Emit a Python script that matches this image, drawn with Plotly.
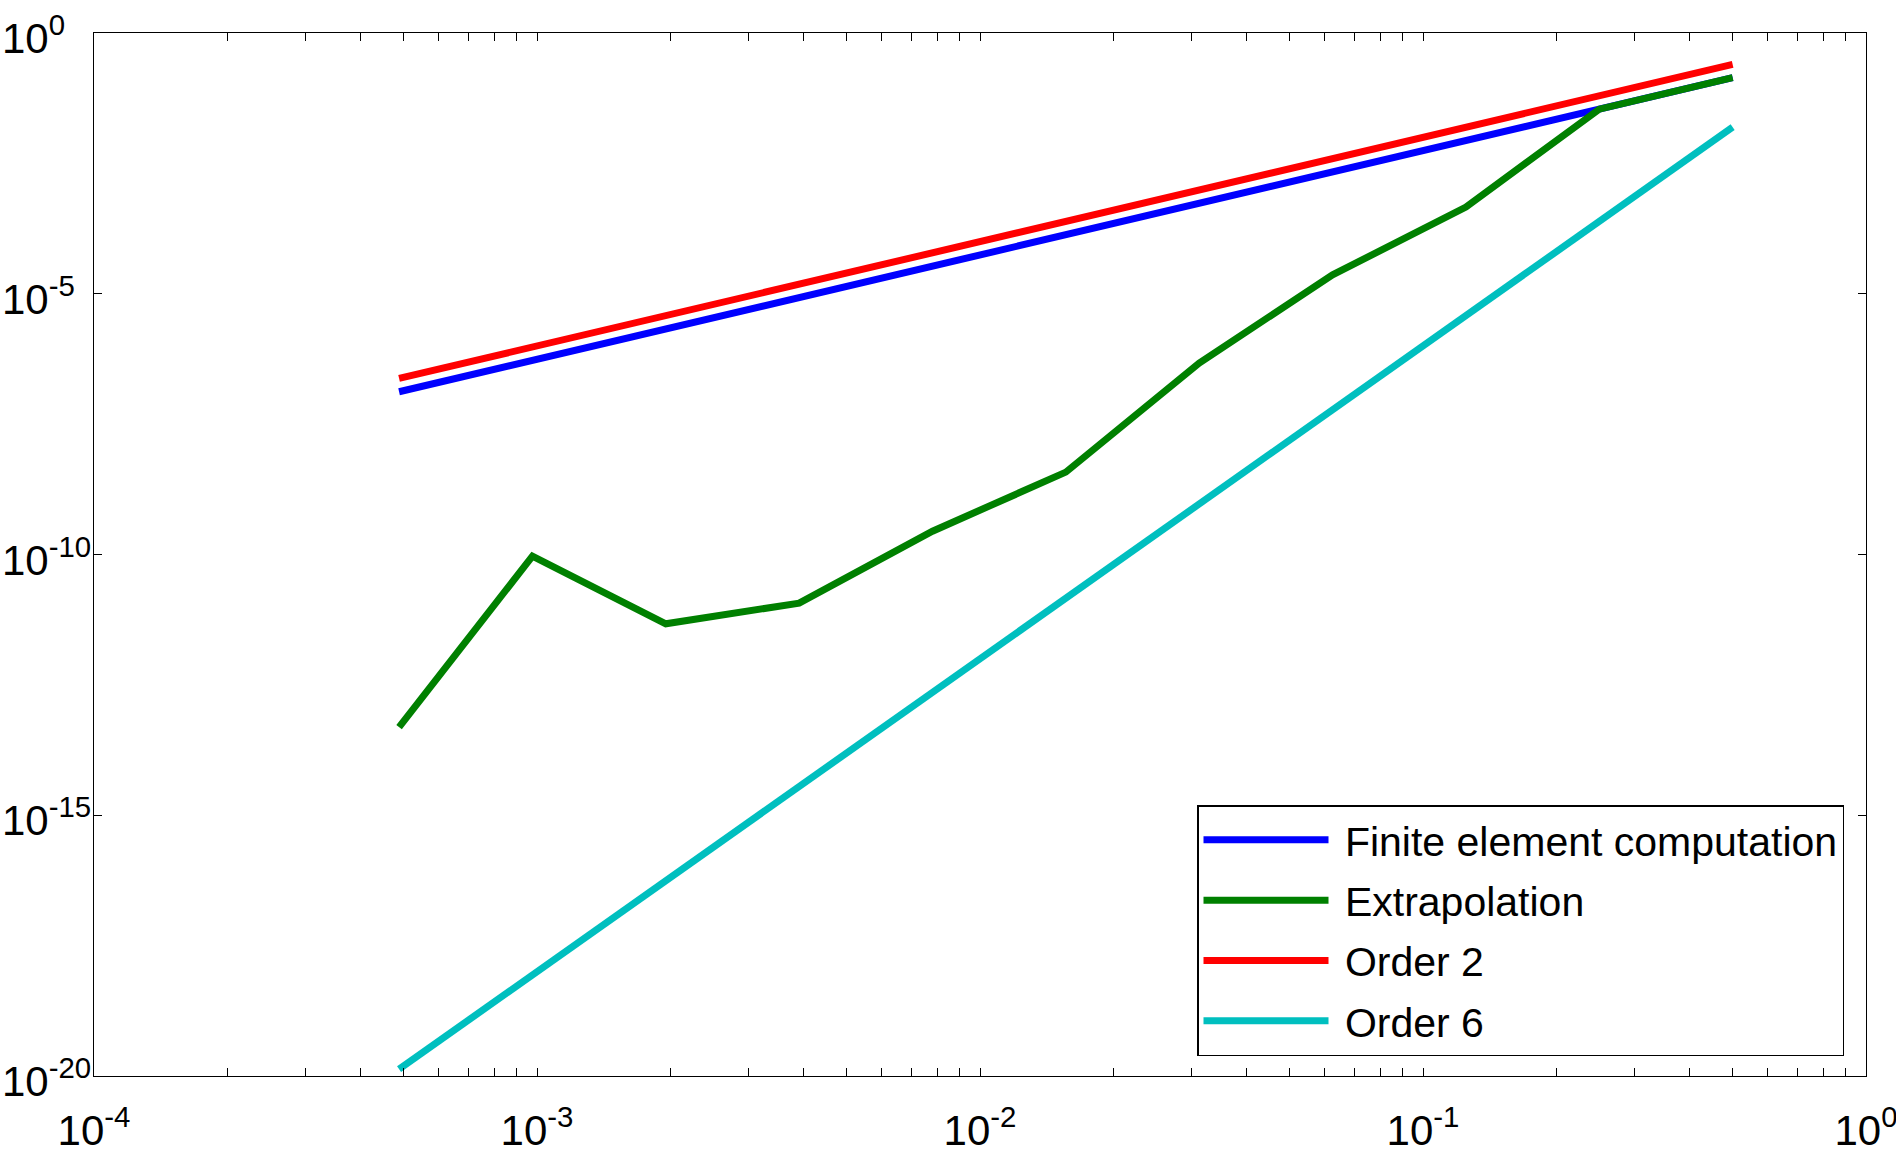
import math
import plotly.graph_objects as go

h = [4.8828125e-4, 9.765625e-4, 1.953125e-3, 3.90625e-3, 7.8125e-3,
     1.5625e-2, 3.125e-2, 6.25e-2, 0.125, 0.25, 0.5]

fe_error = [1.32e-7, 5.29e-7, 2.12e-6, 8.47e-6, 3.39e-5, 1.35e-4,
            5.42e-4, 2.17e-3, 8.67e-3, 3.47e-2, 0.139]
extrap_error = [4.9e-14, 9.3e-11, 4.7e-12, 1.17e-11, 2.8e-10, 3.8e-9,
                4.7e-7, 2.3e-5, 4.6e-4, 3.47e-2, 0.139]
order2 = [2.38e-7, 9.54e-7, 3.81e-6, 1.53e-5, 6.10e-5, 2.44e-4,
          9.77e-4, 3.91e-3, 1.56e-2, 6.25e-2, 0.25]
order6 = [1.355e-20, 8.67e-19, 5.55e-17, 3.55e-15, 2.27e-13, 1.455e-11,
          9.31e-10, 5.96e-8, 3.81e-6, 2.44e-4, 1.5625e-2]

series_names = ["Finite element computation", "Extrapolation", "Order 2", "Order 6"]
series_colors = ["#0000ff", "#008000", "#ff0000", "#00bfbf"]

x_tickvals = [1e-4, 1e-3, 1e-2, 1e-1, 1]
x_ticktext = ["10<sup>-4</sup>", "10<sup>-3</sup>", "10<sup>-2</sup>", "10<sup>-1</sup>", "10<sup>0</sup>"]
x_minor = [k * 10.0 ** e for e in range(-4, 0) for k in range(2, 10)]
y_tickvals = [1e-20, 1e-15, 1e-10, 1e-5, 1]
y_ticktext = ["10<sup>-20</sup>", "10<sup>-15</sup>", "10<sup>-10</sup>", "10<sup>-5</sup>", "10<sup>0</sup>"]

W, H = 1896, 1153
ML, MR, MT, MB = 94, 30, 33, 77
plot_w = W - ML - MR

fig = go.Figure()
for i, (name, ys, col) in enumerate(zip(series_names,
                                        [fe_error, extrap_error, order2, order6],
                                        series_colors)):
    fig.add_trace(go.Scatter(x=h, y=ys, mode="lines", name="\u00a0" + name,
                             legendgroup=f"g{i}",
                             line=dict(color=col, width=7)))

FONT = "Liberation Sans, Arial, sans-serif"
tickfont = dict(family=FONT, size=42, color="black")

# y tick labels: left-aligned at the figure edge, as in the reference
for v, txt in zip(y_tickvals, y_ticktext):
    fig.add_annotation(x=-ML / plot_w, xref="paper", xanchor="left",
                       y=math.log10(v), yref="y", yanchor="middle", yshift=-2,
                       text=txt, showarrow=False, font=tickfont)

fig.update_layout(
    width=W, height=H,
    margin=dict(l=ML, r=MR, t=MT, b=MB),
    paper_bgcolor="white", plot_bgcolor="white",
    showlegend=True,
    legend=dict(
        x=(1844 - ML) / plot_w, y=0.019, xanchor="right", yanchor="bottom",
        bgcolor="white", bordercolor="black", borderwidth=1.5,
        font=dict(family=FONT, size=41, color="black"),
        itemwidth=125, traceorder="grouped", tracegroupgap=4,
    ),
    xaxis=dict(
        type="log", range=[-4, 0], automargin=False,
        tickmode="array", tickvals=x_tickvals, ticktext=x_ticktext,
        ticks="inside", ticklen=8, tickwidth=1.3, tickcolor="black",
        minor=dict(tickmode="array", tickvals=x_minor, ticks="inside",
                   ticklen=8, tickwidth=1.3, tickcolor="black", showgrid=False),
        showline=True, linecolor="black", linewidth=1.3, mirror="allticks",
        showgrid=False, zeroline=False, tickfont=tickfont,
        ticklabelstandoff=17, ticklabeloverflow="allow",
    ),
    yaxis=dict(
        type="log", range=[-20, 0], automargin=False,
        tickmode="array", tickvals=y_tickvals, showticklabels=False,
        ticks="inside", ticklen=8, tickwidth=1.3, tickcolor="black",
        showline=True, linecolor="black", linewidth=1.3, mirror="allticks",
        showgrid=False, zeroline=False,
    ),
)

fig.write_html("out.html")
